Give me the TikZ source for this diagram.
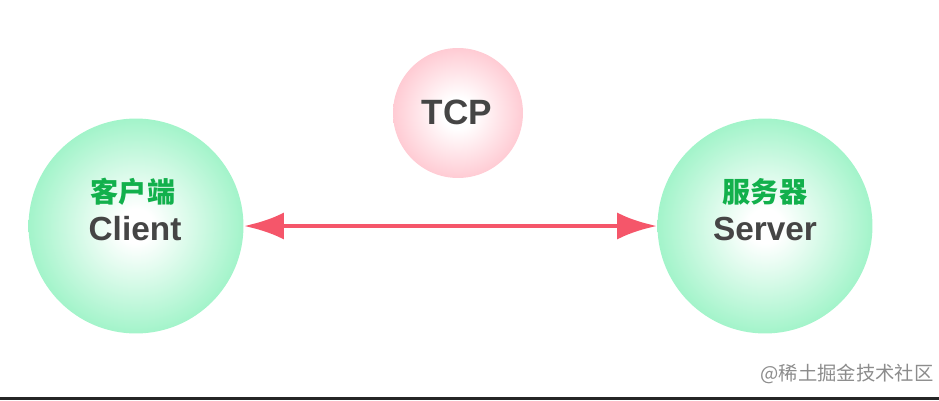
\documentclass[tikz,border=0pt]{standalone}
\usepackage{fontspec}
\setmainfont{Liberation Sans}
\newfontfamily\cjk{Noto Sans CJK SC}
\usepackage{xcolor}
\usepackage{tikz}
\usetikzlibrary{arrows.meta}

\definecolor{mint}{HTML}{72EEAE}
\definecolor{rosy}{HTML}{FFA8B6}
\definecolor{cngreen}{HTML}{12B04C}
\definecolor{linkred}{HTML}{F5566A}
\definecolor{textgray}{HTML}{454545}

\pgfdeclareradialshading{greenball}{\pgfpoint{0bp}{0bp}}{color(0bp)=(white); color(4bp)=(white); color(28bp)=(mint!75!white); color(48bp)=(mint); color(50bp)=(mint!80!white)}
\pgfdeclareradialshading{pinkball}{\pgfpoint{0bp}{0bp}}{color(0bp)=(white); color(6bp)=(white); color(30bp)=(rosy!75!white); color(48bp)=(rosy); color(50bp)=(rosy!80!white)}

\begin{document}
\begin{tikzpicture}[x=0.02cm,y=-0.02cm,
    peer/.style={circle, minimum size=4.3cm, shading=greenball},
    proto/.style={circle, minimum size=2.6cm, shading=pinkball},
    cnlabel/.style={font=\cjk\bfseries\fontsize{16}{18}\selectfont, text=cngreen, inner sep=0pt},
    enlabel/.style={font=\bfseries\fontsize{19}{22}\selectfont, text=textgray, inner sep=0pt},
    link/.style={linkred, line width=2.8pt, {Latex[length=0.8cm,width=0.54cm]}-{Latex[length=0.8cm,width=0.54cm]}}]
    \useasboundingbox (0,0) rectangle (939,400);

    % the two ends
    \node[peer] (client) at (136,226) {};
    \node[peer] (server) at (765,226) {};
    \node[proto] (tcp) at (458,113) {};

    \node[cnlabel] (clientcn) at (133,192) {客户端};
    \node[enlabel] (clienten) at (135,229) {Client};
    \node[cnlabel] (servercn) at (765,192) {服务器};
    \node[enlabel] (serveren) at (765,229) {Server};
    \node[enlabel, font=\bfseries\fontsize{20}{24}\selectfont] (tcpname) at (457,112) {TCP};

    \draw[link] (client) -- (server);

    \node[font=\cjk\fontsize{11}{14}\selectfont, text=black!45, inner sep=0pt] (mark) at (847,374) {@稀土掘金技术社区};
    \fill[black!85] (0,397) rectangle (939,400);
\end{tikzpicture}
\end{document}
